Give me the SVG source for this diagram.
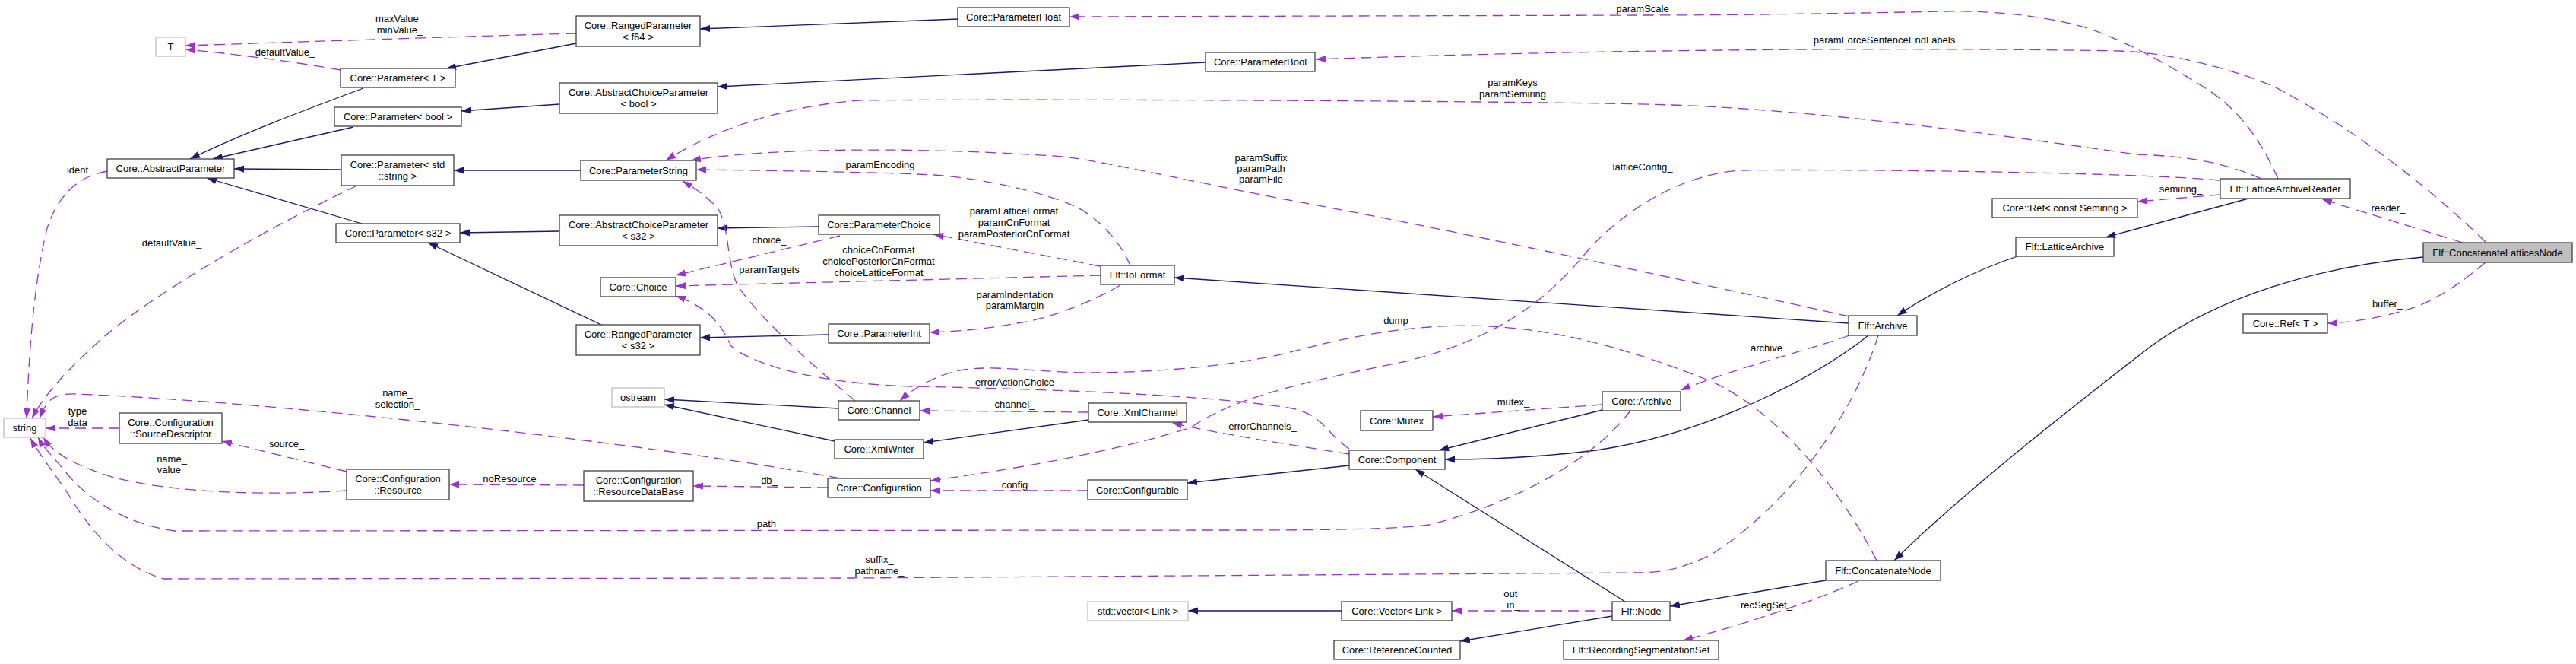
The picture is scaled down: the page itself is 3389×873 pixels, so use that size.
<svg xmlns="http://www.w3.org/2000/svg" width="3389" height="873" viewBox="0 0 3389 873">
<style>
text{font-family:"Liberation Sans",Arial,sans-serif;font-size:13px;fill:#000;text-anchor:middle}
.n rect{fill:#fff;stroke:#404040;stroke-width:1.3}
.x rect{fill:#fff;stroke:#bfbfbf;stroke-width:1.3}
.r rect{fill:#bfbfbf;stroke:#404040;stroke-width:1.3}
.inh{fill:none;stroke:#191970;stroke-width:1.3;marker-end:url(#ai)}
.use{fill:none;stroke:#9a32cd;stroke-width:1.3;stroke-dasharray:14,8;marker-end:url(#au)}
</style>
<defs>
<marker id="ai" viewBox="0 -5 13 10" refX="13" refY="0" markerWidth="13" markerHeight="10" markerUnits="userSpaceOnUse" orient="auto"><path d="M0,-4.6 L13,0 L0,4.6 Z" fill="#191970"/></marker>
<marker id="au" viewBox="0 -5 13 10" refX="13" refY="0" markerWidth="13" markerHeight="10" markerUnits="userSpaceOnUse" orient="auto"><path d="M0,-4.6 L13,0 L0,4.6 Z" fill="#9a32cd"/></marker>
</defs>
<rect width="3389" height="873" fill="#fff"/>
<g id="connectors">
<path class="inh" d="M478,116 C400,145 320,175 250,209"/>
<path class="inh" d="M465,167 L280,209"/>
<path class="inh" d="M449,223 L308,222"/>
<path class="inh" d="M476,294 L272,234"/>
<path class="inh" d="M758,57 L587,90"/>
<path class="inh" d="M736,137 L607,146"/>
<path class="inh" d="M764,224 L597,224"/>
<path class="inh" d="M736,304 L605,306"/>
<path class="inh" d="M791,427 L563,319"/>
<path class="inh" d="M1260,25 L921,38"/>
<path class="inh" d="M1586,82 L944,114"/>
<path class="inh" d="M1077,298 L944,300"/>
<path class="inh" d="M1090,440 L921,444"/>
<path class="inh" d="M1103,537 L874,525"/>
<path class="inh" d="M1098,580 L874,532"/>
<path class="inh" d="M1432,552 L1215,582"/>
<path class="inh" d="M1775,612 L1562,635"/>
<path class="inh" d="M2432,425 C2100,405 1800,385 1545,365"/>
<path class="inh" d="M2108,539 L1893,592"/>
<path class="inh" d="M2458,441 C2390,495 2250,570 2100,592 C2020,602 1950,604 1901,604"/>
<path class="inh" d="M2138,791 L1862,617"/>
<path class="inh" d="M2121,810 L1921,843"/>
<path class="inh" d="M1765,803 L1563,803"/>
<path class="inh" d="M2402,763 L2197,797"/>
<path class="inh" d="M2654,337 C2600,355 2540,385 2496,415"/>
<path class="inh" d="M2958,261 L2770,312"/>
<path class="inh" d="M3188,338 C3050,350 2920,390 2830,455 C2720,540 2580,650 2492,737"/>
<path class="use" d="M758,44 C600,48 400,55 244,60"/>
<path class="use" d="M448,92 C380,80 300,70 244,65"/>
<path class="use" d="M141,225 C100,232 75,260 62,300 C45,370 38,460 35,550"/>
<path class="use" d="M470,244 C330,310 200,390 140,440 C100,475 60,515 42,550"/>
<path class="use" d="M1105,629 C900,590 400,530 100,518 C70,517 62,525 52,550"/>
<path class="use" d="M157,563 L60,563"/>
<path class="use" d="M456,620 L292,580"/>
<path class="use" d="M456,645 C350,652 230,648 150,628 C100,612 72,598 57,575"/>
<path class="use" d="M2145,540 C2100,600 2000,660 1880,690 C1830,697 1700,697 1600,697 L230,698 C170,690 120,660 90,625 C70,600 58,590 50,575"/>
<path class="use" d="M2471,441 C2440,540 2360,660 2250,730 C2210,748 2190,753 2150,753 L1120,760 L215,761 C160,745 120,700 90,650 C70,620 50,595 40,576"/>
<path class="use" d="M768,638 L591,637"/>
<path class="use" d="M1089,641 L912,639"/>
<path class="use" d="M1431,645 L1224,645"/>
<path class="use" d="M2920,237 C2800,226 2400,222 2290,224 C2200,230 2120,290 2080,340 C2020,410 1950,450 1850,475 C1700,505 1620,525 1567,562 C1480,590 1350,615 1224,632"/>
<path class="use" d="M1432,542 L1210,540"/>
<path class="use" d="M1775,590 C1745,570 1740,545 1700,537 C1600,520 1400,512 1200,508 C1080,505 990,480 962,455 C950,430 935,405 889,389"/>
<path class="use" d="M1775,597 C1700,585 1600,570 1542,556"/>
<path class="use" d="M1105,310 L889,362"/>
<path class="use" d="M1448,362 L889,376"/>
<path class="use" d="M1125,527 C1080,490 1000,420 970,375 C955,340 960,300 945,275 C930,258 915,248 898,238"/>
<path class="use" d="M1447,350 L1228,308"/>
<path class="use" d="M1474,375 C1440,395 1380,420 1338,425 C1300,432 1260,436 1223,437"/>
<path class="use" d="M1487,349 C1470,310 1440,285 1418,273 C1380,255 1300,235 1229,230 C1150,226 1000,224 916,223"/>
<path class="use" d="M2433,416 C2200,365 1900,300 1690,262 C1550,235 1450,212 1400,206 C1200,192 1000,195 909,211"/>
<path class="use" d="M2975,235 C2930,215 2880,205 2810,203 C2650,180 2400,145 2200,138 C2000,132 1300,130 1130,132 C1030,140 940,170 876,211"/>
<path class="use" d="M2108,532 L1885,548"/>
<path class="use" d="M2469,737 C2420,640 2330,530 2240,497 C2150,462 2050,430 1934,428 C1820,428 1730,455 1690,465 C1600,485 1500,490 1420,490 C1340,487 1290,478 1250,490 C1220,500 1200,512 1184,527"/>
<path class="use" d="M2433,441 C2380,460 2280,485 2211,513"/>
<path class="use" d="M2121,803 L1910,803"/>
<path class="use" d="M2445,764 C2400,785 2300,820 2214,842"/>
<path class="use" d="M3240,319 L3055,262"/>
<path class="use" d="M3270,345 C3240,370 3200,400 3157,410 C3120,420 3090,424 3062,425"/>
<path class="use" d="M2921,256 L2812,265"/>
<path class="use" d="M2997,235 C2970,175 2940,140 2900,115 C2860,90 2810,60 2750,38 C2690,20 2620,14 2560,15 C2450,17 2300,20 2161,20 L1407,22"/>
<path class="use" d="M3270,318 C3200,250 3100,170 2990,113 C2920,85 2850,70 2790,67 C2500,62 2100,65 1731,78"/>
</g>
<g id="labels">
<text x="526" y="29">maxValue_</text><text x="526" y="44">minValue_</text>
<text x="375" y="73">defaultValue_</text>
<text x="102" y="228">ident</text>
<text x="226" y="324">defaultValue_</text>
<text x="102" y="545">type</text><text x="102" y="560">data</text>
<text x="523" y="521">name_</text><text x="523" y="536">selection_</text>
<text x="377" y="588">source_</text>
<text x="226" y="608">name_</text><text x="226" y="622">value_</text>
<text x="674" y="634">noResource_</text>
<text x="1012" y="636">db_</text>
<text x="1012" y="693">path_</text>
<text x="1012" y="320">choice_</text>
<text x="1012" y="359">paramTargets</text>
<text x="1158" y="221">paramEncoding</text>
<text x="1156" y="333">choiceCnFormat</text><text x="1156" y="348">choicePosteriorCnFormat</text><text x="1156" y="363">choiceLatticeFormat</text>
<text x="1334" y="282">paramLatticeFormat</text><text x="1334" y="297">paramCnFormat</text><text x="1334" y="312">paramPosteriorCnFormat</text>
<text x="1335" y="392">paramIndentation</text><text x="1335" y="406">paramMargin</text>
<text x="1659" y="212">paramSuffix</text><text x="1659" y="226">paramPath</text><text x="1659" y="240">paramFile</text>
<text x="1335" y="507">errorActionChoice</text>
<text x="1335" y="536">channel_</text>
<text x="1335" y="642">config</text>
<text x="1157" y="740">suffix_</text><text x="1157" y="755">pathname_</text>
<text x="1661" y="565">errorChannels_</text>
<text x="2161" y="16">paramScale</text>
<text x="1990" y="113">paramKeys</text><text x="1990" y="128">paramSemiring</text>
<text x="2161" y="224">latticeConfig_</text>
<text x="1840" y="426">dump_</text>
<text x="1991" y="533">mutex_</text>
<text x="1991" y="785">out_</text><text x="1991" y="800">in_</text>
<text x="2479" y="57">paramForceSentenceEndLabels</text>
<text x="2324" y="462">archive</text>
<text x="2324" y="800">recSegSet_</text>
<text x="2869" y="253">semiring_</text>
<text x="3142" y="278">reader_</text>
<text x="3141" y="404">buffer_</text>
</g>
<g id="T" class="x"><rect x="205" y="49" width="39" height="25"/><text x="224.5" y="66">T</text></g>
<g id="AbstractParameter" class="n"><rect x="141" y="209" width="167" height="25"/><text x="224.5" y="226">Core::AbstractParameter</text></g>
<g id="ParameterT" class="n"><rect x="448" y="90" width="151" height="25"/><text x="523.5" y="107">Core::Parameter&lt; T &gt;</text></g>
<g id="ParameterBoolT" class="n"><rect x="440" y="141" width="167" height="25"/><text x="523.5" y="158">Core::Parameter&lt; bool &gt;</text></g>
<g id="ParameterStdString" class="n"><rect x="449" y="204" width="148" height="40"/><text x="523" y="221">Core::Parameter&lt; std</text><text x="523" y="236">::string &gt;</text></g>
<g id="ParameterS32" class="n"><rect x="442" y="294" width="163" height="25"/><text x="523.5" y="311">Core::Parameter&lt; s32 &gt;</text></g>
<g id="RangedParameterF64" class="n"><rect x="758" y="21" width="163" height="40"/><text x="839.5" y="38">Core::RangedParameter</text><text x="839.5" y="53">&lt; f64 &gt;</text></g>
<g id="ACPBool" class="n"><rect x="736" y="109" width="208" height="40"/><text x="840" y="126">Core::AbstractChoiceParameter</text><text x="840" y="141">&lt; bool &gt;</text></g>
<g id="ParameterString" class="n"><rect x="764" y="211" width="152" height="26"/><text x="840" y="228.5">Core::ParameterString</text></g>
<g id="ACPS32" class="n"><rect x="736" y="283" width="208" height="40"/><text x="840" y="300">Core::AbstractChoiceParameter</text><text x="840" y="315">&lt; s32 &gt;</text></g>
<g id="Choice" class="n"><rect x="790" y="365" width="99" height="25"/><text x="839.5" y="382">Core::Choice</text></g>
<g id="RangedParameterS32" class="n"><rect x="758" y="427" width="163" height="40"/><text x="839.5" y="444">Core::RangedParameter</text><text x="839.5" y="459">&lt; s32 &gt;</text></g>
<g id="ParameterChoice" class="n"><rect x="1077" y="283" width="159" height="25"/><text x="1156.5" y="300">Core::ParameterChoice</text></g>
<g id="ParameterInt" class="n"><rect x="1090" y="426" width="133" height="25"/><text x="1156.5" y="443">Core::ParameterInt</text></g>
<g id="ParameterFloat" class="n"><rect x="1260" y="10" width="147" height="25"/><text x="1333.5" y="27">Core::ParameterFloat</text></g>
<g id="ParameterBool" class="n"><rect x="1586" y="69" width="144" height="25"/><text x="1658" y="86">Core::ParameterBool</text></g>
<g id="IoFormat" class="n"><rect x="1448" y="349" width="97" height="25"/><text x="1496.5" y="366">Flf::IoFormat</text></g>
<g id="ostream" class="x"><rect x="805" y="510" width="69" height="25"/><text x="839.5" y="527">ostream</text></g>
<g id="Channel" class="n"><rect x="1103" y="527" width="107" height="25"/><text x="1156.5" y="544">Core::Channel</text></g>
<g id="XmlWriter" class="n"><rect x="1098" y="578" width="117" height="25"/><text x="1156.5" y="595">Core::XmlWriter</text></g>
<g id="Configuration" class="n"><rect x="1089" y="629" width="135" height="25"/><text x="1156.5" y="646">Core::Configuration</text></g>
<g id="XmlChannel" class="n"><rect x="1432" y="530" width="129" height="25"/><text x="1496.5" y="547">Core::XmlChannel</text></g>
<g id="Configurable" class="n"><rect x="1431" y="631" width="131" height="26"/><text x="1496.5" y="648.5">Core::Configurable</text></g>
<g id="StdVectorLink" class="x"><rect x="1431" y="791" width="132" height="25"/><text x="1497" y="808">std::vector&lt; Link &gt;</text></g>
<g id="string" class="x"><rect x="5" y="550" width="55" height="25"/><text x="32.5" y="567">string</text></g>
<g id="SourceDescriptor" class="n"><rect x="157" y="543" width="135" height="40"/><text x="224.5" y="560">Core::Configuration</text><text x="224.5" y="575">::SourceDescriptor</text></g>
<g id="Resource" class="n"><rect x="456" y="617" width="135" height="40"/><text x="523.5" y="634">Core::Configuration</text><text x="523.5" y="649">::Resource</text></g>
<g id="ResourceDataBase" class="n"><rect x="768" y="619" width="144" height="40"/><text x="840" y="636">Core::Configuration</text><text x="840" y="651">::ResourceDataBase</text></g>
<g id="CoreArchive" class="n"><rect x="2108" y="515" width="103" height="25"/><text x="2159.5" y="532">Core::Archive</text></g>
<g id="Mutex" class="n"><rect x="1790" y="540" width="95" height="26"/><text x="1837.5" y="557.5">Core::Mutex</text></g>
<g id="Component" class="n"><rect x="1775" y="592" width="126" height="25"/><text x="1838" y="609">Core::Component</text></g>
<g id="CoreVectorLink" class="n"><rect x="1765" y="791" width="145" height="25"/><text x="1837.5" y="808">Core::Vector&lt; Link &gt;</text></g>
<g id="FlfNode" class="n"><rect x="2121" y="791" width="76" height="25"/><text x="2159" y="808">Flf::Node</text></g>
<g id="ReferenceCounted" class="n"><rect x="1755" y="842" width="166" height="25"/><text x="1838" y="859">Core::ReferenceCounted</text></g>
<g id="RecordingSegmentationSet" class="n"><rect x="2057" y="842" width="204" height="25"/><text x="2159" y="859">Flf::RecordingSegmentationSet</text></g>
<g id="RefConstSemiring" class="n"><rect x="2621" y="261" width="191" height="25"/><text x="2716.5" y="278">Core::Ref&lt; const Semiring &gt;</text></g>
<g id="LatticeArchive" class="n"><rect x="2652" y="312" width="129" height="25"/><text x="2716.5" y="329">Flf::LatticeArchive</text></g>
<g id="FlfArchive" class="n"><rect x="2432" y="415" width="90" height="26"/><text x="2477" y="432.5">Flf::Archive</text></g>
<g id="ConcatenateNode" class="n"><rect x="2402" y="737" width="151" height="26"/><text x="2477.5" y="754.5">Flf::ConcatenateNode</text></g>
<g id="LatticeArchiveReader" class="n"><rect x="2921" y="235" width="171" height="26"/><text x="3006.5" y="252.5">Flf::LatticeArchiveReader</text></g>
<g id="ConcatenateLatticesNode" class="r"><rect x="3188" y="319" width="196" height="26"/><text x="3286" y="336.5">Flf::ConcatenateLatticesNode</text></g>
<g id="RefT" class="n"><rect x="2951" y="413" width="111" height="25"/><text x="3006.5" y="430">Core::Ref&lt; T &gt;</text></g>
</svg>
